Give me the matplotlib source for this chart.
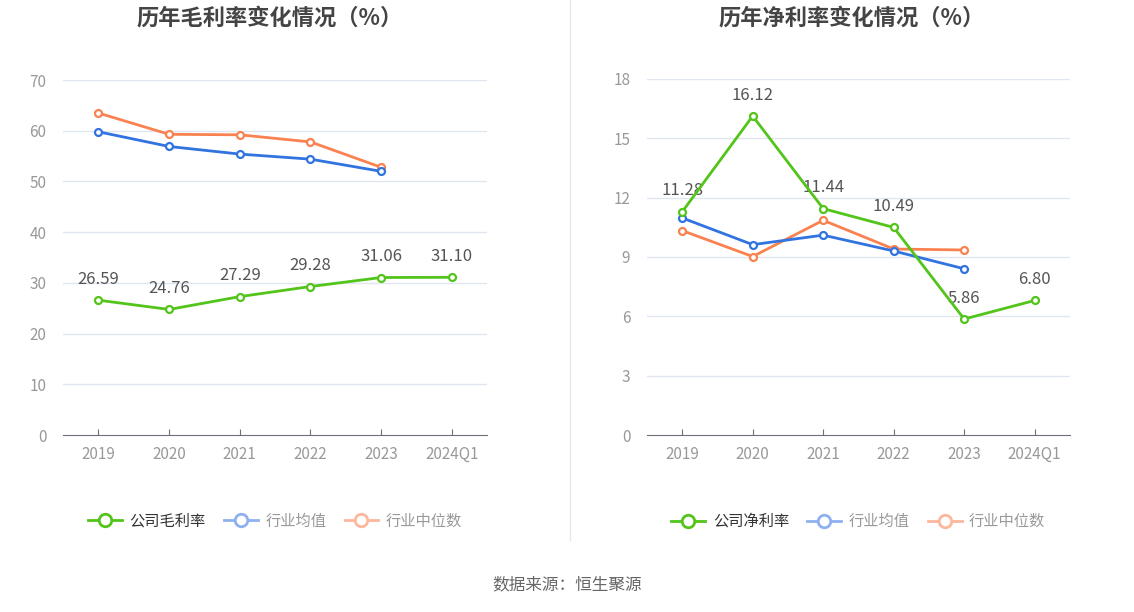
import matplotlib
matplotlib.use('Agg')
import matplotlib.pyplot as plt
from matplotlib.lines import Line2D

plt.rcParams['font.family'] = ['Noto Sans CJK SC', 'DejaVu Sans']

years = ['2019', '2020', '2021', '2022', '2023', '2024Q1']

# gross margin (%)
gross_company = [26.59, 24.76, 27.29, 29.28, 31.06, 31.10]
gross_avg = [59.8, 56.9, 55.4, 54.4, 52.0]
gross_median = [63.5, 59.3, 59.2, 57.8, 52.8]

# net margin (%)
net_company = [11.28, 16.12, 11.44, 10.49, 5.86, 6.80]
net_avg = [10.97, 9.62, 10.1, 9.3, 8.4]
net_median = [10.33, 9.02, 10.85, 9.4, 9.35]

green = '#52c41a'
blue = '#3173e0'
orange = '#fa8150'
grid_c = '#e0e6f1'
tick_c = '#999999'

fig = plt.figure(figsize=(11.34, 6.12), dpi=100)


def draw(ax, company, avg, median, yticks, label_name):
    x = list(range(len(years)))
    for yt in yticks[1:]:
        ax.axhline(yt, color=grid_c, lw=1, zorder=0)
    ax.plot(x[:len(median)], median, color=orange, lw=2, marker='o', ms=5,
            mfc='white', mew=1.6, zorder=3)
    ax.plot(x[:len(avg)], avg, color=blue, lw=2, marker='o', ms=5,
            mfc='white', mew=1.6, zorder=4)
    ax.plot(x, company, color=green, lw=2, marker='o', ms=5,
            mfc='white', mew=1.6, zorder=5)
    for i, v in enumerate(company):
        ax.annotate('%.2f' % v, (i, v), xytext=(0, 9), textcoords='offset points',
                    ha='center', va='bottom', fontsize=12, color='#555555')
    ax.set_xlim(-0.5, len(years) - 0.5)
    ax.set_ylim(yticks[0], yticks[-1])
    ax.set_yticks(yticks)
    ax.set_xticks(x)
    ax.set_xticklabels(years)
    for s in ['top', 'right', 'left']:
        ax.spines[s].set_visible(False)
    ax.spines['bottom'].set_color('#6e7079')
    ax.tick_params(axis='y', length=0, colors=tick_c, labelsize=11, pad=12)
    ax.tick_params(axis='x', direction='in', length=4, color='#6e7079',
                   colors=tick_c, labelsize=11, pad=8)
    ax.set_facecolor('none')
    handles = [
        Line2D([], [], color=green, lw=2, marker='o', ms=9, mfc='white', mew=2),
        Line2D([], [], color='#8fb0f0', lw=2, marker='o', ms=9, mfc='white', mew=2),
        Line2D([], [], color='#fcb79c', lw=2, marker='o', ms=9, mfc='white', mew=2),
    ]
    leg = ax.legend(handles, [label_name, '行业均值', '行业中位数'], loc='upper center',
                    bbox_to_anchor=(0.5, -0.18), ncol=3, frameon=False,
                    fontsize=11, handlelength=2.2, columnspacing=1.2,
                    handletextpad=0.5)
    cols = ['#333333', tick_c, tick_c]
    for t, c in zip(leg.get_texts(), cols):
        t.set_color(c)


ax1 = fig.add_axes([0.0556, 0.2892, 0.374, 0.580])
draw(ax1, gross_company, gross_avg, gross_median, [0, 10, 20, 30, 40, 50, 60, 70],
     '公司毛利率')

ax2 = fig.add_axes([0.5705, 0.2892, 0.373, 0.582])
draw(ax2, net_company, net_avg, net_median, [0, 3, 6, 9, 12, 15, 18],
     '公司净利率')

fig.text(270 / 1134, 1 - 18 / 612, '历年毛利率变化情况（%）', ha='center', va='center',
         fontsize=16, fontweight='bold', color='#444444')
fig.text(852 / 1134, 1 - 18 / 612, '历年净利率变化情况（%）', ha='center', va='center',
         fontsize=16, fontweight='bold', color='#444444')

fig.add_artist(Line2D([570 / 1134, 570 / 1134], [1 - 540 / 612, 1.0],
                      color='#e8e8e8', lw=1))
fig.text(0.5, 1 - 585 / 612, '数据来源：恒生聚源', ha='center', va='center',
         fontsize=12, color='#666666')

fig.savefig('out.png', dpi=100, facecolor='white')
